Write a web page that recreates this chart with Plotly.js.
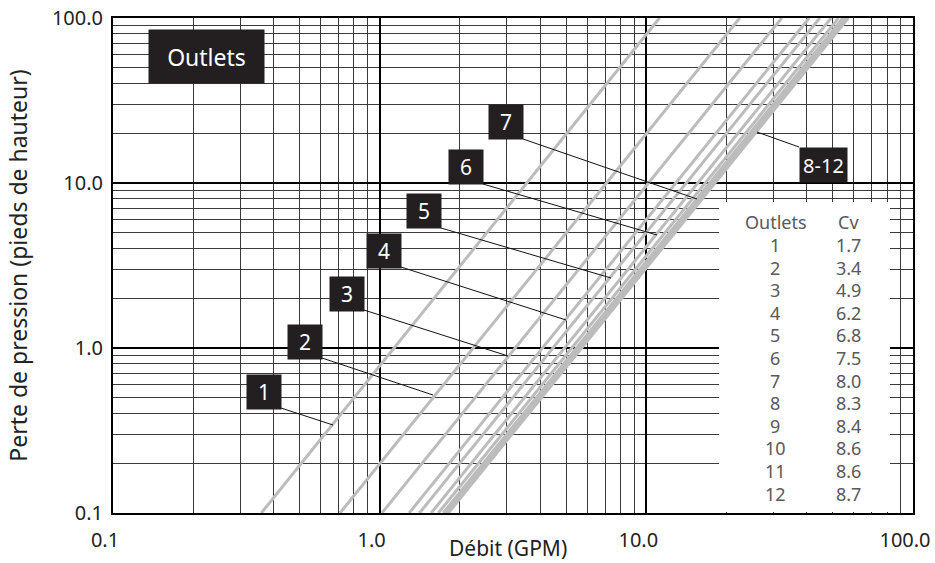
<!DOCTYPE html>
<html>
<head>
<meta charset="utf-8">
<script src="https://cdn.plot.ly/plotly-3.0.1.min.js"></script>
<style>html,body{margin:0;padding:0;background:#fff;}#chart{width:935px;height:563px;}</style>
</head>
<body>
<div id="chart"></div>
<script>
// ---- data ----
const outlets = ['1','2','3','4','5','6','7','8','9','10','11','12'];
const cv = ['1.7','3.4','4.9','6.2','6.8','7.5','8.0','8.3','8.4','8.6','8.6','8.7'];
// flow (GPM) where each line crosses 0.1 ft and 100 ft of head loss
const flowAtLowLoss  = [0.36, 0.71, 1.02, 1.29, 1.41, 1.56, 1.66, 1.73, 1.75, 1.79, 1.79, 1.81];
const flowAtHighLoss = [11.2, 22.4, 32.2, 40.8, 44.7, 49.3, 52.6, 54.6, 55.3, 56.6, 56.6, 57.2];
const lossEnds = [0.1, 100];
const labelTexts = ['1','2','3','4','5','6','7','8-12'];
const xTickVals = [0.1, 1, 10, 100];
const xTickText = ['0.1', '1.0', '10.0', '100.0'];
const yTickVals = [0.1, 1, 10, 100];
const yTickText = ['0.1', '1.0', '10.0', '100.0'];

// ---- layout helpers (pixel -> paper) ----
const L = 113, R = 913, T = 18, B = 513;
const px = v => (v - L) / (R - L);
const py = v => (B - v) / (B - T);

const FONT = 'Noto Sans, Open Sans, sans-serif';

const traces = outlets.map((o, i) => ({
  type: 'scatter', mode: 'lines',
  x: [flowAtLowLoss[i], flowAtHighLoss[i]],
  y: lossEnds,
  line: {color: '#bcbcbc', width: 3},
  hoverinfo: 'skip', showlegend: false, name: o
}));

// label boxes: centers, sizes, leader lines (pixels)
const boxes = [
  {c:[264,392], w:34, h:34, t:[281,408], e:[333,425]},
  {c:[305,342], w:34, h:34, t:[322,358], e:[433,395]},
  {c:[347,294], w:34, h:34, t:[364,310], e:[508,356]},
  {c:[384,251], w:34, h:34, t:[401,267], e:[566,320]},
  {c:[424,211], w:34, h:34, t:[441,228], e:[611,278]},
  {c:[466,167], w:34, h:34, t:[483,184], e:[657,235]},
  {c:[506,122], w:34, h:34, t:[523,139], e:[697,199]},
  {c:[823,165], w:47, h:34, t:[799,147], e:[757,132]}
];

const annotations = [];
const shapes = [];

// white table background (covers the grid only; no curve passes here)
shapes.push({type:'rect', xref:'paper', yref:'paper', x0:px(719), x1:px(890), y0:py(512), y1:py(202),
  fillcolor:'#ffffff', line:{width:0}, layer:'above'});

boxes.forEach((b, i) => {
  shapes.push({type:'line', xref:'paper', yref:'paper', x0:px(b.t[0]), y0:py(b.t[1]), x1:px(b.e[0]), y1:py(b.e[1]),
    line:{color:'#111', width:1}, layer:'above'});
  annotations.push({xref:'paper', yref:'paper', x:px(b.c[0]), y:py(b.c[1]), xanchor:'center', yanchor:'middle',
    text: labelTexts[i], showarrow:false, bgcolor:'#231f20', width:b.w, height:b.h, borderpad:0,
    font:{family:FONT, size: i === 7 ? 20 : 21, color:'#ffffff'}});
});

// "Outlets" title box
annotations.push({xref:'paper', yref:'paper', x:px(206.5), y:py(56.5), xanchor:'center', yanchor:'middle',
  text:'Outlets', showarrow:false, bgcolor:'#231f20', width:115, height:53, borderpad:0,
  font:{family:FONT, size:23, color:'#ffffff'}});

// table
const tableColor = '#58595b';
const TS = 18;
annotations.push({xref:'paper', yref:'paper', x:px(776), y:py(222), xanchor:'center', yanchor:'middle',
  text:'Outlets', showarrow:false, font:{family:FONT, size:TS, color:tableColor}});
annotations.push({xref:'paper', yref:'paper', x:px(848), y:py(222), xanchor:'center', yanchor:'middle',
  text:'Cv', showarrow:false, font:{family:FONT, size:TS, color:tableColor}});
outlets.forEach((o, i) => {
  const yy = 245 + 22.6 * i;
  annotations.push({xref:'paper', yref:'paper', x:px(775), y:py(yy), xanchor:'center', yanchor:'middle',
    text:o, showarrow:false, font:{family:FONT, size:TS, color:tableColor}});
  annotations.push({xref:'paper', yref:'paper', x:px(848), y:py(yy), xanchor:'center', yanchor:'middle',
    text:cv[i], showarrow:false, font:{family:FONT, size:TS, color:tableColor}});
});

// x axis title (placed beside the tick labels as in the reference)
annotations.push({xref:'paper', yref:'paper', x:px(508), y:py(548), xanchor:'center', yanchor:'middle',
  text:'Débit (GPM)', showarrow:false, font:{family:FONT, size:21, color:'#222'}});

const axisCommon = {
  type:'log', range:[-1, 2], tickmode:'array',
  showgrid:true, gridcolor:'#000', gridwidth:2,
  minor:{dtick:'D1', showgrid:true, gridcolor:'#3a3a3a', gridwidth:1, ticks:''},
  showline:true, mirror:true, linecolor:'#000', linewidth:2,
  ticks:'', zeroline:false, fixedrange:true,
  tickfont:{family:FONT, size:20, color:'#222'}
};

const layout = {
  width:935, height:563,
  margin:{l:L, r:935-R, t:T, b:563-B},
  paper_bgcolor:'#ffffff', plot_bgcolor:'#ffffff',
  showlegend:false,
  xaxis: Object.assign({}, axisCommon, {tickvals:xTickVals, ticktext:xTickText, ticklabelstandoff:8, ticklabelshift:-8}),
  yaxis: Object.assign({}, axisCommon, {tickvals:yTickVals, ticktext:yTickText, ticklabelstandoff:4,
    title:{text:'Perte de pression (pieds de hauteur)', font:{family:FONT, size:23, color:'#222'}, standoff:18}}),
  shapes: shapes,
  annotations: annotations
};

Plotly.newPlot('chart', traces, layout, {displayModeBar:false, staticPlot:true});
</script>
</body>
</html>
